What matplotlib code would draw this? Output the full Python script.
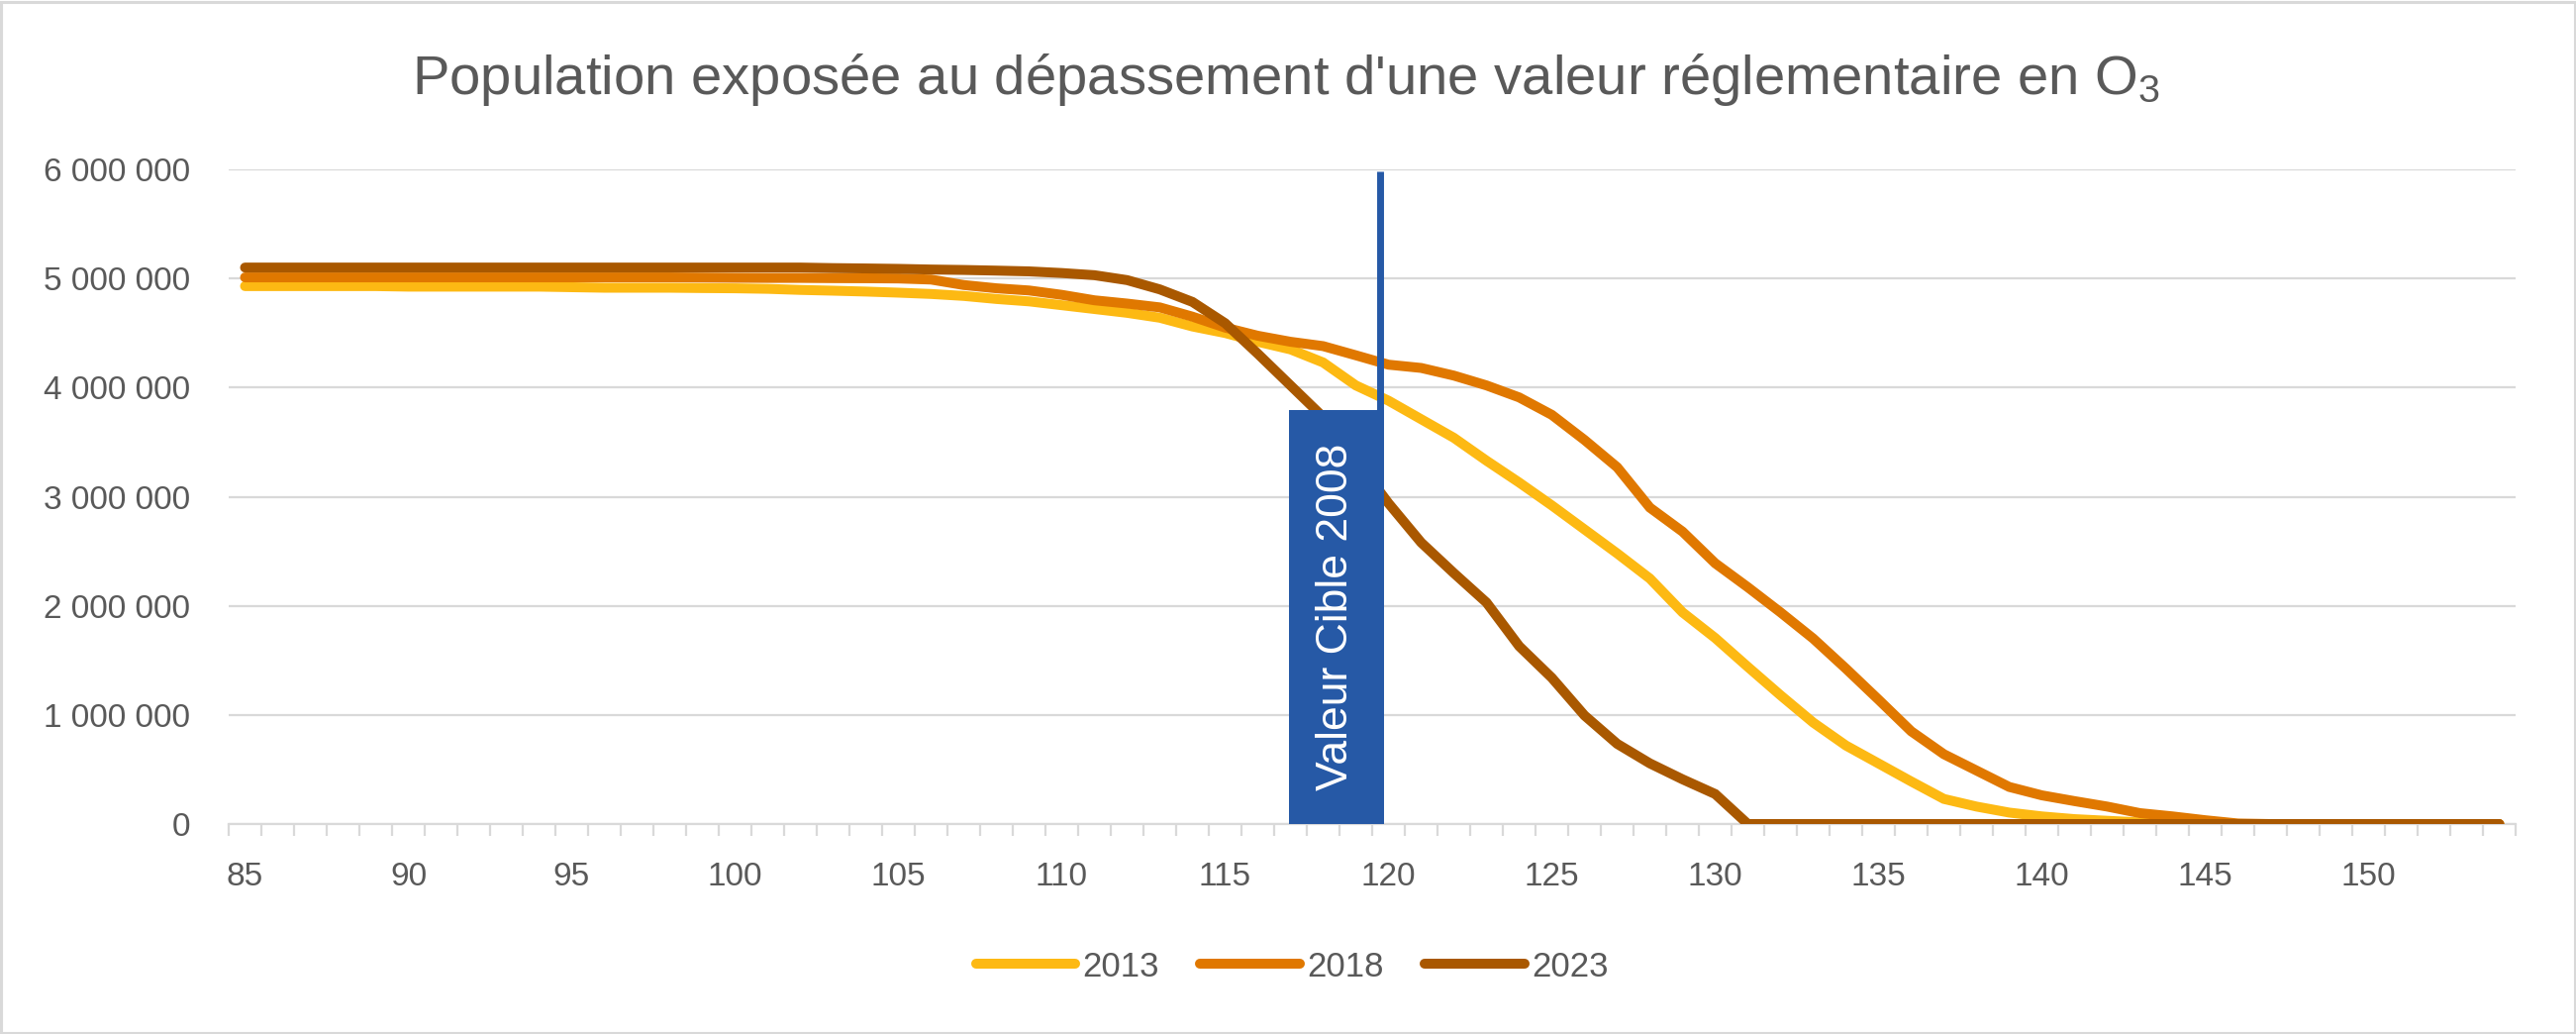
import matplotlib
matplotlib.use("Agg")
import matplotlib.pyplot as plt
import matplotlib.ticker as mticker
from matplotlib.patches import Rectangle

# ── Data (population exposée, par seuil en µg/m³) ──────────────────────────
seuils = list(range(85, 155))

pop_2013 = [
    4930000, 4930000, 4930000, 4930000, 4930000, 4925000, 4925000, 4925000,
    4925000, 4925000, 4920000, 4915000, 4915000, 4915000, 4912000, 4910000,
    4905000, 4895000, 4888000, 4880000, 4870000, 4858000, 4840000, 4812000,
    4790000, 4755000, 4720000, 4685000, 4640000, 4560000, 4500000, 4420000,
    4350000, 4230000, 4020000, 3880000, 3710000, 3540000, 3330000, 3130000,
    2920000, 2700000, 2480000, 2250000, 1940000, 1705000, 1440000, 1180000,
    930000, 720000, 555000, 390000, 230000, 160000, 105000, 70000,
    45000, 30000, 15000, 10000, 3000, 0, 0, 0,
    0, 0, 0, 0, 0, 0,
]
pop_2018 = [
    5010000, 5010000, 5010000, 5010000, 5010000, 5010000, 5010000, 5010000,
    5010000, 5010000, 5010000, 5010000, 5010000, 5010000, 5008000, 5006000,
    5005000, 5005000, 5003000, 5002000, 5000000, 4990000, 4940000, 4910000,
    4890000, 4850000, 4800000, 4770000, 4735000, 4650000, 4550000, 4475000,
    4420000, 4380000, 4296000, 4210000, 4180000, 4110000, 4020000, 3910000,
    3750000, 3520000, 3270000, 2900000, 2680000, 2390000, 2170000, 1940000,
    1700000, 1425000, 1140000, 850000, 640000, 490000, 340000, 263000,
    210000, 160000, 100000, 70000, 35000, 5000, 0, 0,
    0, 0, 0, 0, 0, 0,
]
pop_2023 = [
    5100000, 5100000, 5100000, 5100000, 5100000, 5100000, 5100000, 5100000,
    5100000, 5100000, 5100000, 5100000, 5100000, 5100000, 5100000, 5100000,
    5100000, 5100000, 5095000, 5092000, 5088000, 5082000, 5078000, 5072000,
    5065000, 5050000, 5030000, 4985000, 4900000, 4785000, 4590000, 4310000,
    4020000, 3730000, 3340000, 2940000, 2580000, 2300000, 2030000, 1630000,
    1340000, 995000, 735000, 556000, 410000, 275000, 0, 0,
    0, 0, 0, 0, 0, 0, 0, 0,
    0, 0, 0, 0, 0, 0, 0, 0,
    0, 0, 0, 0, 0, 0,
]
series_labels = ["2013", "2018", "2023"]
series_colors = ["#FDB913", "#E07800", "#A95800"]

valeur_cible = 119.75          # position of the regulatory marker on the axis
valeur_cible_top = 5980000
boite_x = (116.95, 119.86)
boite_top = 3790000
boite_texte = "Valeur Cible 2008"

x_tick_labels = list(range(85, 151, 5))
y_ticks = list(range(0, 6000001, 1000000))

# ── Style ───────────────────────────────────────────────────────────────────
plt.rcParams.update({
    "font.family": ["Liberation Sans", "DejaVu Sans"],
    "mathtext.default": "regular",
})
GREY_TXT = "#595959"
GRID = "#D9D9D9"
BLUE = "#2659A6"

W, H = 2602, 1044
fig = plt.figure(figsize=(W / 100, H / 100), dpi=100)
fig.patch.set_facecolor("white")

ax = fig.add_axes([231 / W, 1 - 832 / H, (2541 - 231) / W, (832 - 171) / H])

for vals, lab, col in zip([pop_2013, pop_2018, pop_2023], series_labels, series_colors):
    ax.plot(seuils, vals, color=col, lw=7.2, label=lab,
            solid_capstyle="round", solid_joinstyle="miter", zorder=3)

# regulatory value marker + label box
ax.vlines(valeur_cible, 0, valeur_cible_top, color=BLUE, lw=5, zorder=5)
ax.add_patch(Rectangle((boite_x[0], 0), boite_x[1] - boite_x[0], boite_top,
                       facecolor=BLUE, edgecolor="none", zorder=6))
ax.text(sum(boite_x) / 2, boite_top / 2, boite_texte, rotation=90,
        ha="center", va="center", color="white", fontsize=32, zorder=7)

ax.set_xlim(84.5, 154.5)
ax.set_ylim(0, 6000000)

ax.set_xticks(x_tick_labels)
ax.set_xticks([s - 0.5 for s in seuils] + [seuils[-1] + 0.5], minor=True)
ax.set_yticks(y_ticks)
ax.yaxis.set_major_formatter(mticker.FuncFormatter(lambda v, _: f"{int(v):,}".replace(",", " ")))

ax.tick_params(axis="x", which="major", length=0, pad=27, labelsize=24, labelcolor=GREY_TXT)
ax.tick_params(axis="x", which="minor", length=8.6, width=1.6, color=GRID, direction="out")
ax.tick_params(axis="y", length=0, pad=28, labelsize=24, labelcolor=GREY_TXT)

ax.yaxis.grid(True, color=GRID, lw=1.6, zorder=0)
ax.set_axisbelow(True)
for s in ["top", "right", "left"]:
    ax.spines[s].set_visible(False)
ax.spines["bottom"].set_color(GRID)
ax.spines["bottom"].set_linewidth(1.6)

fig.text(1299 / W, 1 - 95 / H,
         r"Population exposée au dépassement d'une valeur réglementaire en O$_{3}$",
         ha="center", va="baseline", fontsize=40.5, color=GREY_TXT)

fig.legend(loc="center", bbox_to_anchor=(1305 / W, 1 - 976 / H), ncol=3,
           frameon=False, fontsize=25, handlelength=2.9, handletextpad=0.2,
           columnspacing=1.2, labelcolor=GREY_TXT)

# outer chart border
fig.add_artist(Rectangle((1.5 / W, 1.5 / H), 1 - 3 / W, 1 - 3 / H,
                         transform=fig.transFigure, fill=False,
                         edgecolor=GRID, lw=2.2))

fig.savefig("out.png", dpi=100, facecolor="white")
